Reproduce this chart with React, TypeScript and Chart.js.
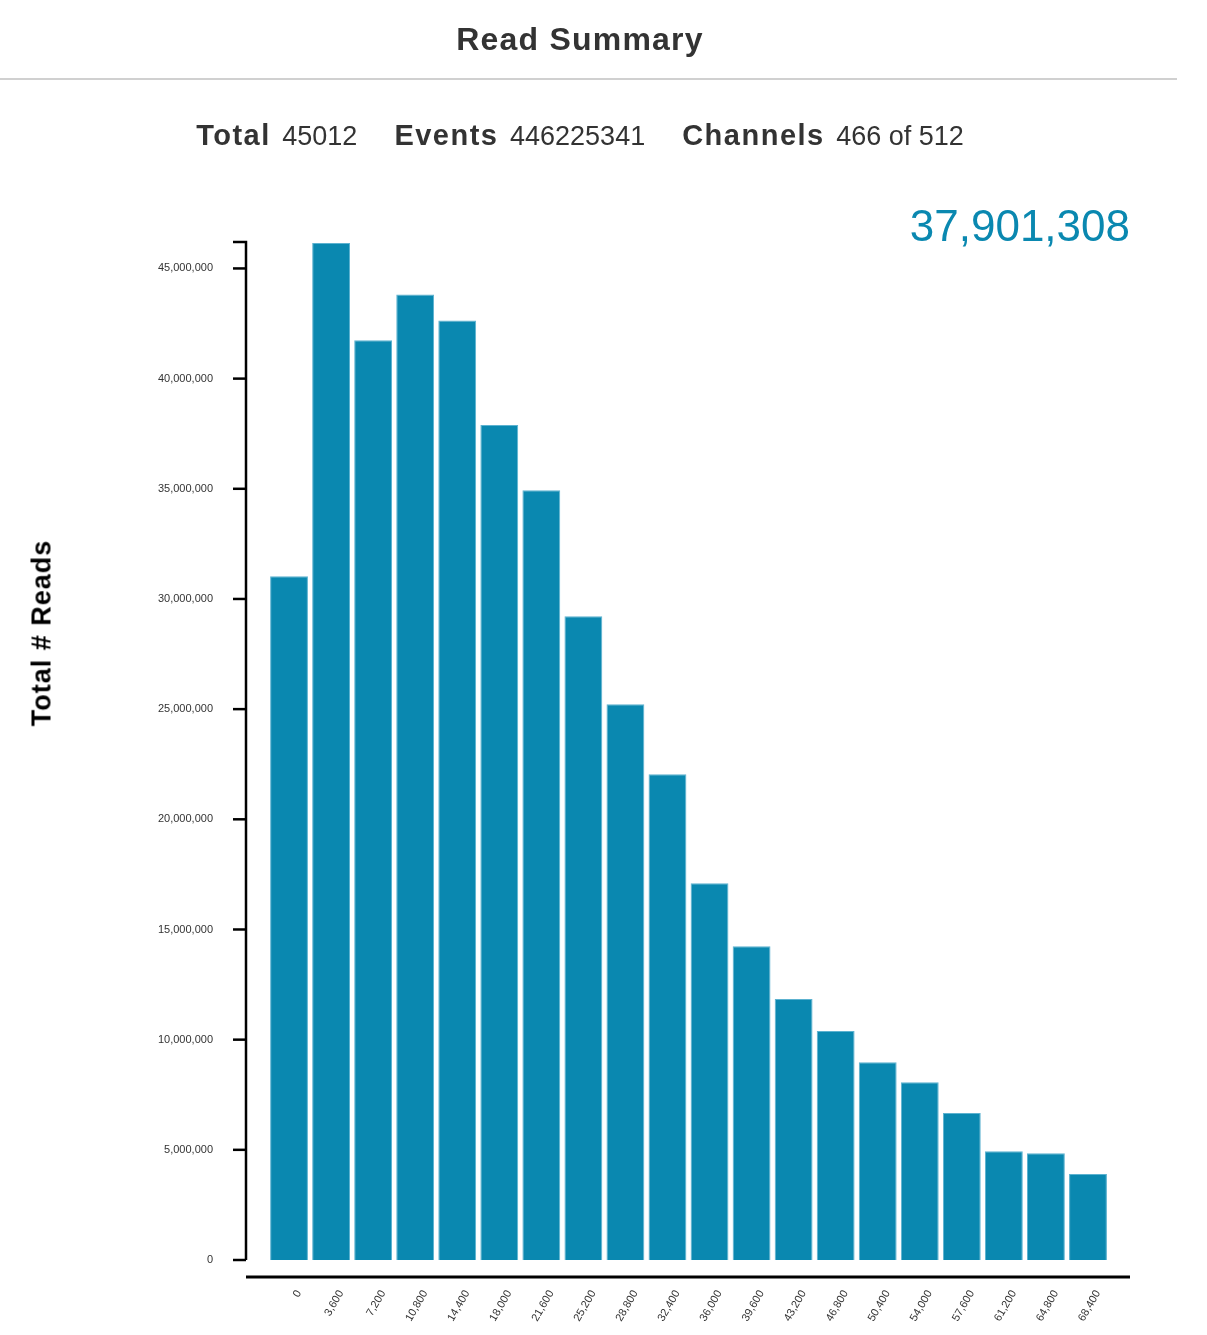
import { useEffect, useRef } from "react";
import Chart from "chart.js/auto";

// bin starts (read length, bp) shown under each bar
const binLabels = [
  "0", "3,600", "7,200", "10,800", "14,400", "18,000", "21,600", "25,200", "28,800", "32,400",
  "36,000", "39,600", "43,200", "46,800", "50,400", "54,000", "57,600", "61,200", "64,800", "68,400",
];

// total reads per bin
const readCounts = [
  31030000, 46150000, 41740000, 43820000, 42640000, 37900000, 34930000, 29210000, 25220000, 22050000,
  17100000, 14240000, 11840000, 10390000, 8980000, 8070000, 6670000, 4940000, 4850000, 3900000,
];

const yTicks = [0, 5000000, 10000000, 15000000, 20000000, 25000000, 30000000, 35000000, 40000000, 45000000];
const yMax = 46200000;

const stats = [
  { label: "Total", value: "45012" },
  { label: "Events", value: "446225341" },
  { label: "Channels", value: "466 of 512" },
];
const highlight = "37,901,308";

const FONT = "'Liberation Sans', Arial, Helvetica, sans-serif";
const BAR = "#0a88b0";

// d3-style axes: y line offset left of the bars, x line offset below zero
const axisPlugin = {
  id: "offsetAxes",
  afterDraw(chart: any) {
    const { ctx, chartArea, scales } = chart;
    const y = scales.y;
    const ax = chartArea.left - 22;
    const top = y.getPixelForValue(yMax);
    const bottom = y.getPixelForValue(0);
    ctx.save();
    ctx.strokeStyle = "#000";
    ctx.lineWidth = 2.5;
    ctx.beginPath();
    ctx.moveTo(ax - 13, top);
    ctx.lineTo(ax, top);
    ctx.lineTo(ax, bottom);
    ctx.stroke();
    y.ticks.forEach((t: any) => {
      const py = y.getPixelForValue(t.value);
      ctx.beginPath();
      ctx.moveTo(ax - 13, py);
      ctx.lineTo(ax, py);
      ctx.stroke();
    });
    ctx.lineWidth = 3;
    ctx.beginPath();
    ctx.moveTo(ax, bottom + 17);
    ctx.lineTo(chartArea.right + 21, bottom + 17);
    ctx.stroke();
    ctx.restore();
  },
};

export default function App() {
  const chartRef = useRef<HTMLCanvasElement | null>(null);

  useEffect(() => {
    if (!chartRef.current) return;
    const ctx = chartRef.current.getContext("2d");
    if (!ctx) return;

    const chart = new Chart(ctx, {
      type: "bar",
      data: {
        labels: binLabels,
        datasets: [
          {
            data: readCounts,
            backgroundColor: BAR,
            borderColor: "#5cb2d0",
            borderWidth: 1,
            barPercentage: 0.9,
            categoryPercentage: 1.0,
          },
        ],
      },
      options: {
        animation: false,
        responsive: true,
        maintainAspectRatio: false,
        layout: { padding: { left: 0, right: 98, top: 242, bottom: 0 } },
        plugins: {
          legend: { display: false },
          tooltip: { enabled: false },
        },
        scales: {
          x: {
            grid: { display: false, drawTicks: false },
            border: { display: false },
            afterFit: (s: any) => {
              s.height = 75;
            },
            ticks: {
              autoSkip: false,
              minRotation: 60,
              maxRotation: 60,
              labelOffset: 10,
              padding: 28,
              color: "#333",
              font: { family: FONT, size: 11 },
            },
          },
          y: {
            min: 0,
            max: yMax,
            grid: { display: false, drawTicks: false },
            border: { display: false },
            afterFit: (s: any) => {
              s.width = 268;
            },
            afterBuildTicks: (s: any) => {
              s.ticks = yTicks.map((v) => ({ value: v }));
            },
            ticks: {
              autoSkip: false,
              padding: 55,
              color: "#333",
              font: { family: FONT, size: 11 },
              callback: (v: any) => Number(v).toLocaleString("en-US"),
            },
          },
        },
      },
      plugins: [axisPlugin],
    });

    return () => chart.destroy();
  }, []);

  return (
    <div
      style={{
        position: "absolute",
        left: 0,
        top: 0,
        width: 1207,
        height: 1335,
        background: "#fff",
        fontFamily: FONT,
        color: "#333",
        overflow: "hidden",
      }}
    >
      <div style={{ position: "absolute", left: 0, top: 0, width: 1207, height: 1335 }}>
        <canvas ref={chartRef}></canvas>
      </div>

      <div
        style={{
          position: "absolute",
          left: 0,
          width: 1160,
          top: 18,
          textAlign: "center",
          fontSize: 32,
          fontWeight: "bold",
          letterSpacing: 1.2,
          lineHeight: "42px",
        }}
      >
        Read Summary
      </div>
      <div style={{ position: "absolute", left: 0, top: 78, width: 1177, height: 2, background: "#d0d0d0" }} />

      <div
        style={{
          position: "absolute",
          left: 0,
          width: 1160,
          top: 117,
          display: "flex",
          justifyContent: "center",
          gap: 37,
          lineHeight: "36px",
        }}
      >
        {stats.map((s) => (
          <span key={s.label}>
            <b style={{ fontSize: 29, letterSpacing: 1.5, marginRight: 4 }}>{s.label}</b>
            <span style={{ fontSize: 27 }}> {s.value}</span>
          </span>
        ))}
      </div>

      <div
        style={{
          position: "absolute",
          right: 1207 - 1130,
          top: 200,
          fontSize: 44,
          lineHeight: "52px",
          color: BAR,
        }}
      >
        {highlight}
      </div>

      <div
        style={{
          position: "absolute",
          left: 42,
          top: 633,
          transform: "translate(-50%, -50%) rotate(-90deg)",
          whiteSpace: "nowrap",
          fontSize: 27,
          fontWeight: "bold",
          letterSpacing: 1,
          color: "#000",
        }}
      >
        Total # Reads
      </div>
    </div>
  );
}
